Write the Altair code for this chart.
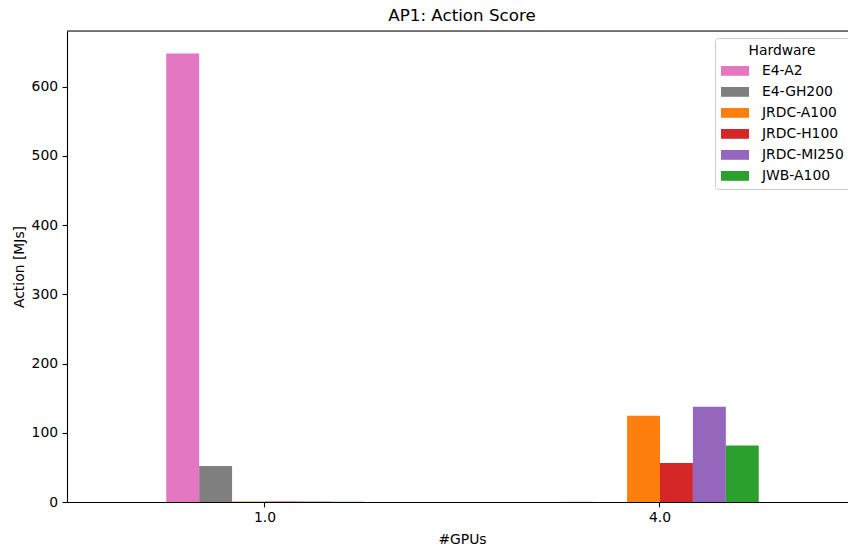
import altair as alt
import pandas as pd

# Action score (MJs) per hardware and GPU count
gpus = ["1.0", "4.0"]
hardware = ["E4-A2", "E4-GH200", "JRDC-A100", "JRDC-H100", "JRDC-MI250", "JWB-A100"]
colors = ["#e377c2", "#7f7f7f", "#ff7f0e", "#d62728", "#9467bd", "#2ca02c"]
action_1gpu = [647.8, 52.0, 0.8, 0.6, 0.7, 0.5]
action_4gpu = [0.5, 0.0, 124.5, 56.5, 137.5, 81.5]
y_ticks = [0, 100, 200, 300, 400, 500, 600]

rows = []
for g, vals in zip(gpus, [action_1gpu, action_4gpu]):
    for h, v in zip(hardware, vals):
        rows.append({"GPUs": g, "Hardware": h, "Action": v})
df = pd.DataFrame(rows)

FONT = "DejaVu Sans"
FS = 13.9
W, H = 781, 471

bars = alt.Chart(df).mark_bar(stroke=None).encode(
    x=alt.X(
        "GPUs:N",
        sort=gpus,
        scale=alt.Scale(paddingInner=0.5, paddingOuter=0.2386, align=0.5265),
        axis=alt.Axis(
            title="#GPUs", labelAngle=0, labelFontSize=FS, labelFont=FONT,
            labelColor="black", labelPadding=4, tickSize=4.9, tickColor="black",
            tickWidth=1.1, domainColor="black", domainWidth=1.1,
            titleFont=FONT, titleFontSize=FS, titleFontWeight="normal",
            titleColor="black", titleX=395, titleY=41,
            titleBaseline="alphabetic", titleAnchor="start", titleAlign="center",
        ),
    ),
    xOffset=alt.XOffset("Hardware:N", sort=hardware,
                        scale=alt.Scale(paddingInner=0, paddingOuter=0)),
    y=alt.Y(
        "Action:Q",
        scale=alt.Scale(domain=[0, 680.4], nice=False, zero=True),
        axis=alt.Axis(
            title="Action [MJs]", values=y_ticks, grid=False,
            labelFontSize=FS, labelFont=FONT, labelColor="black",
            labelPadding=4.5, tickSize=4.9, tickColor="black", tickWidth=1.1,
            domainColor="black", domainWidth=1.1,
            titleFont=FONT, titleFontSize=FS, titleFontWeight="normal",
            titleColor="black", titleX=-43.5, titleBaseline="alphabetic",
        ),
    ),
    color=alt.Color(
        "Hardware:N", sort=hardware,
        scale=alt.Scale(domain=hardware, range=colors),
        legend=alt.Legend(
            title="Hardware", orient="none", legendX=648, legendY=7,
            titleFont=FONT, titleFontSize=FS, titleFontWeight="normal",
            titleColor="black", titleAnchor="middle", titlePadding=6,
            labelFont=FONT, labelFontSize=FS, labelColor="black", labelOffset=27,
            symbolType="M-1,-0.7L3,-0.7L3,0.7L-1,0.7Z", symbolSize=196,
            symbolStrokeWidth=0, symbolOpacity=1,
            rowPadding=7, padding=6, fillColor="white", strokeColor="#cccccc",
            cornerRadius=3, offset=0,
        ),
    ),
)

# top spine of the axes frame
top_spine = alt.Chart(alt.Data(values=[{}])).mark_rule(
    color="black", strokeWidth=1.1
).encode(x=alt.value(0), x2=alt.value(W), y=alt.value(0))

chart = alt.layer(bars, top_spine).properties(
    width=W, height=H,
    title=alt.Title("AP1: Action Score", font=FONT, fontSize=16.7,
                    fontWeight="normal", color="black", anchor="middle",
                    dx=4.5, dy=16, offset=9, baseline="alphabetic"),
    autosize=alt.AutoSizeParams(type="none"),
    padding={"left": 67, "top": 31, "right": 0, "bottom": 48},
).configure_view(stroke=None).configure(background="white")

chart.save("out.html", embed_options={"renderer": "svg", "actions": False})
